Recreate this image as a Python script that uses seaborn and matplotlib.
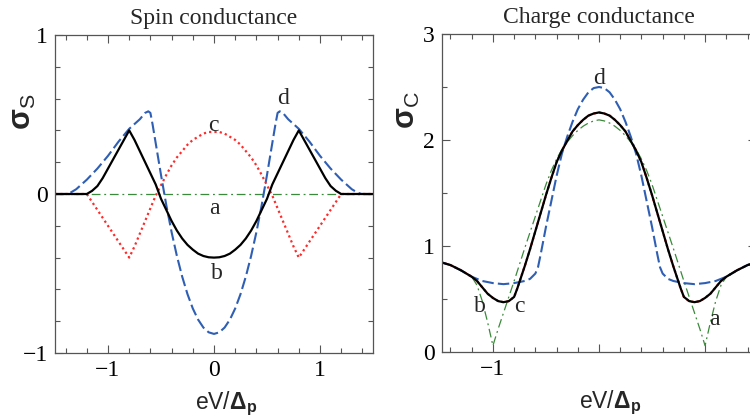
import numpy as np
import pandas as pd
import matplotlib
matplotlib.use("Agg")
import matplotlib.pyplot as plt
from matplotlib.ticker import MultipleLocator, FixedLocator
import seaborn as sns

sns.set_style("ticks")
plt.rcParams["font.family"] = ["Liberation Serif", "DejaVu Serif"]
plt.rcParams["mathtext.fontset"] = "custom"
plt.rcParams["mathtext.rm"] = "Liberation Sans"
plt.rcParams["mathtext.bf"] = "Liberation Sans:bold"
plt.rcParams["mathtext.it"] = "Liberation Sans:italic"

# ---- Spin conductance, sampled for eV/Delta_p <= 0 (curves are even in V) ----
spin_a_x = [-1.5, 0.0]
spin_a_y = [0.0, 0.0]

spin_b_x = [-1.5, -1.2, -1.15, -1.1, -1.05, -1.0, -0.95, -0.9, -0.85, -0.8,
            -0.75, -0.7, -0.65, -0.6, -0.55, -0.5, -0.45, -0.4, -0.35, -0.3,
            -0.25, -0.2, -0.15, -0.1, -0.05, 0.0]
spin_b_y = [0.0, 0.0, 0.02, 0.05, 0.10, 0.16, 0.22, 0.28, 0.34, 0.40,
            0.34, 0.27, 0.20, 0.13, 0.06, -0.03, -0.10, -0.17, -0.23, -0.28,
            -0.32, -0.35, -0.375, -0.39, -0.398, -0.40]

spin_c_x = [-1.5, -1.2, -1.1, -1.0, -0.9, -0.8, -0.75, -0.7, -0.65, -0.6,
            -0.55, -0.5, -0.45, -0.4, -0.35, -0.3, -0.25, -0.2, -0.15, -0.1,
            -0.05, 0.0]
spin_c_y = [0.0, 0.0, -0.10, -0.20, -0.30, -0.40, -0.33, -0.25, -0.17, -0.09,
            -0.01, 0.055, 0.12, 0.18, 0.23, 0.27, 0.31, 0.34, 0.36, 0.38,
            0.39, 0.39]

spin_d_x = [-1.5, -1.39, -1.35, -1.3, -1.2, -1.1, -1.0, -0.9, -0.8, -0.7,
            -0.65, -0.62, -0.6, -0.58, -0.55, -0.5, -0.45, -0.4, -0.35, -0.3,
            -0.25, -0.2, -0.15, -0.1, -0.05, 0.0]
spin_d_y = [0.0, 0.0, 0.01, 0.03, 0.09, 0.16, 0.24, 0.33, 0.41, 0.47,
            0.51, 0.52, 0.51, 0.44, 0.32, 0.12, -0.07, -0.24, -0.39, -0.52,
            -0.63, -0.72, -0.79, -0.84, -0.87, -0.88]

# ---- Charge conductance, sampled for eV/Delta_p <= 0 ----
chg_a_x = [-1.5, -1.4, -1.3, -1.2, -1.15, -1.1, -1.05, -1.0, -0.95, -0.9,
           -0.8, -0.7, -0.6, -0.5, -0.45, -0.4, -0.35, -0.3, -0.25, -0.2,
           -0.15, -0.1, -0.05, 0.0]
chg_a_y = [0.85, 0.82, 0.77, 0.71, 0.63, 0.48, 0.28, 0.06, 0.22, 0.37,
           0.67, 0.98, 1.28, 1.58, 1.71, 1.82, 1.91, 1.98, 2.04, 2.09,
           2.13, 2.16, 2.18, 2.19]

chg_b_x = [-1.5, -1.4, -1.3, -1.2, -1.15, -1.1, -1.05, -1.0, -0.95, -0.9,
           -0.85, -0.8, -0.77, -0.74, -0.7, -0.65, -0.6, -0.55, -0.5, -0.45,
           -0.4, -0.35, -0.3, -0.25, -0.2, -0.15, -0.1, -0.05, 0.0]
chg_b_y = [0.85, 0.82, 0.77, 0.71, 0.67, 0.61, 0.55, 0.51, 0.48, 0.47,
           0.48, 0.52, 0.60, 0.69, 0.81, 0.97, 1.14, 1.31, 1.48, 1.64,
           1.79, 1.90, 1.99, 2.08, 2.14, 2.19, 2.23, 2.25, 2.26]

chg_c_x = chg_b_x
chg_c_y = chg_b_y

chg_d_x = [-1.5, -1.4, -1.3, -1.2, -1.1, -1.0, -0.9, -0.8, -0.7, -0.65,
           -0.6, -0.575, -0.55, -0.5, -0.45, -0.4, -0.35, -0.3, -0.25, -0.2,
           -0.15, -0.1, -0.05, 0.0]
chg_d_y = [0.85, 0.82, 0.77, 0.71, 0.67, 0.65, 0.64, 0.65, 0.67, 0.69,
           0.74, 0.80, 0.92, 1.18, 1.42, 1.66, 1.87, 2.03, 2.17, 2.29,
           2.38, 2.45, 2.49, 2.50]


def even_curve(xs, ys):
    """Extend a curve sampled on V <= 0 to positive V using its even symmetry."""
    xs = np.asarray(xs, float)
    ys = np.asarray(ys, float)
    xf = np.concatenate([xs, -xs[::-1][1:]])
    yf = np.concatenate([ys, ys[::-1][1:]])
    return pd.DataFrame({"V": xf, "G": yf})


BLUE = "#2f5fb4"
RED = "#ff2a2a"
GREEN = "#3b8a3b"
BLACK = "#000000"
SPINE = "#555555"

styles = {
    "a": dict(color=GREEN, lw=0.9, linestyle=(0, (7, 3, 1.5, 3))),
    "b": dict(color=BLACK, lw=1.6, linestyle="-"),
    "c": dict(color=RED, lw=1.6, linestyle=(0, (1, 1.4))),
    "d": dict(color=BLUE, lw=1.5, linestyle=(0, (5.5, 2))),
}

fig = plt.figure(figsize=(7.5, 4.19), dpi=100)
ax1 = fig.add_axes([55 / 750, 66 / 419, 318 / 750, 318 / 419])
ax2 = fig.add_axes([442 / 750, 67 / 419, 314 / 750, 318 / 419])

# Spin panel
for key, (xs, ys) in {"a": (spin_a_x, spin_a_y), "c": (spin_c_x, spin_c_y),
                      "d": (spin_d_x, spin_d_y), "b": (spin_b_x, spin_b_y)}.items():
    df = even_curve(xs, ys)
    sns.lineplot(data=df, x="V", y="G", ax=ax1, estimator=None, sort=False,
                 **styles[key])

# Charge panel (curve c lies beneath curve b)
for key, (xs, ys) in {"c": (chg_c_x, chg_c_y), "a": (chg_a_x, chg_a_y),
                      "d": (chg_d_x, chg_d_y), "b": (chg_b_x, chg_b_y)}.items():
    df = even_curve(xs, ys)
    sns.lineplot(data=df, x="V", y="G", ax=ax2, estimator=None, sort=False,
                 **styles[key])

ax1.set_xlim(-1.5, 1.5)
ax1.set_ylim(-1, 1)
ax2.set_xlim(-1.48, 1.48)
ax2.set_ylim(0, 3)

ax1.xaxis.set_major_locator(FixedLocator([-1, 0, 1]))
ax1.set_xticklabels(["\u22121", "0", "1"])
ax1.yaxis.set_major_locator(FixedLocator([-1, 0, 1]))
ax1.set_yticklabels(["\u22121", "0", "1"])
ax1.xaxis.set_minor_locator(MultipleLocator(0.2))
ax1.yaxis.set_minor_locator(MultipleLocator(0.2))

ax2.xaxis.set_major_locator(FixedLocator([-1, 0, 1]))
ax2.set_xticklabels(["\u22121", "", ""])
ax2.yaxis.set_major_locator(FixedLocator([0, 1, 2, 3]))
ax2.set_yticklabels(["0", "1", "2", "3"])
ax2.xaxis.set_minor_locator(MultipleLocator(0.2))
ax2.yaxis.set_minor_locator(MultipleLocator(0.5))

for ax in (ax1, ax2):
    ax.tick_params(which="both", direction="in", top=True, right=True,
                   color=SPINE, width=0.8, labelsize=17, labelcolor="black")
    ax.tick_params(which="major", length=6, pad=5)
    ax.tick_params(which="minor", length=3.5)
    for s in ax.spines.values():
        s.set_color(SPINE)
        s.set_linewidth(0.9)
    ax.set_xlabel(r"eV/$\mathbf{\Delta_p}$", fontsize=16.5,
                  family=["Liberation Sans", "DejaVu Sans"])

ax1.xaxis.set_label_coords(0.538, -0.115)
ax2.xaxis.set_label_coords(0.535, -0.115)

ax1.set_ylabel(r"$\mathbf{\sigma}_{\mathrm{S}}$", fontsize=22, rotation=90)
ax2.set_ylabel(r"$\mathbf{\sigma}_{\mathrm{C}}$", fontsize=22, rotation=90)
ax1.yaxis.set_label_coords(-0.052, 0.76)
ax2.yaxis.set_label_coords(-0.065, 0.76)

ax1.set_title("Spin conductance", fontsize=17, pad=8)
ax2.set_title("Charge conductance", fontsize=17, pad=8)

lbl = dict(fontsize=17, ha="center", va="center")
ax1.text(-0.01, 0.43, "c", **lbl)
ax1.text(0.65, 0.60, "d", **lbl)
ax1.text(0.0, -0.09, "a", **lbl)
ax1.text(0.03, -0.50, "b", **lbl)

ax2.text(0.0, 2.58, "d", **lbl)
ax2.text(-1.12, 0.43, "b", **lbl)
ax2.text(-0.75, 0.43, "c", **lbl)
ax2.text(1.09, 0.31, "a", **lbl)

fig.savefig("out.png", dpi=100)
